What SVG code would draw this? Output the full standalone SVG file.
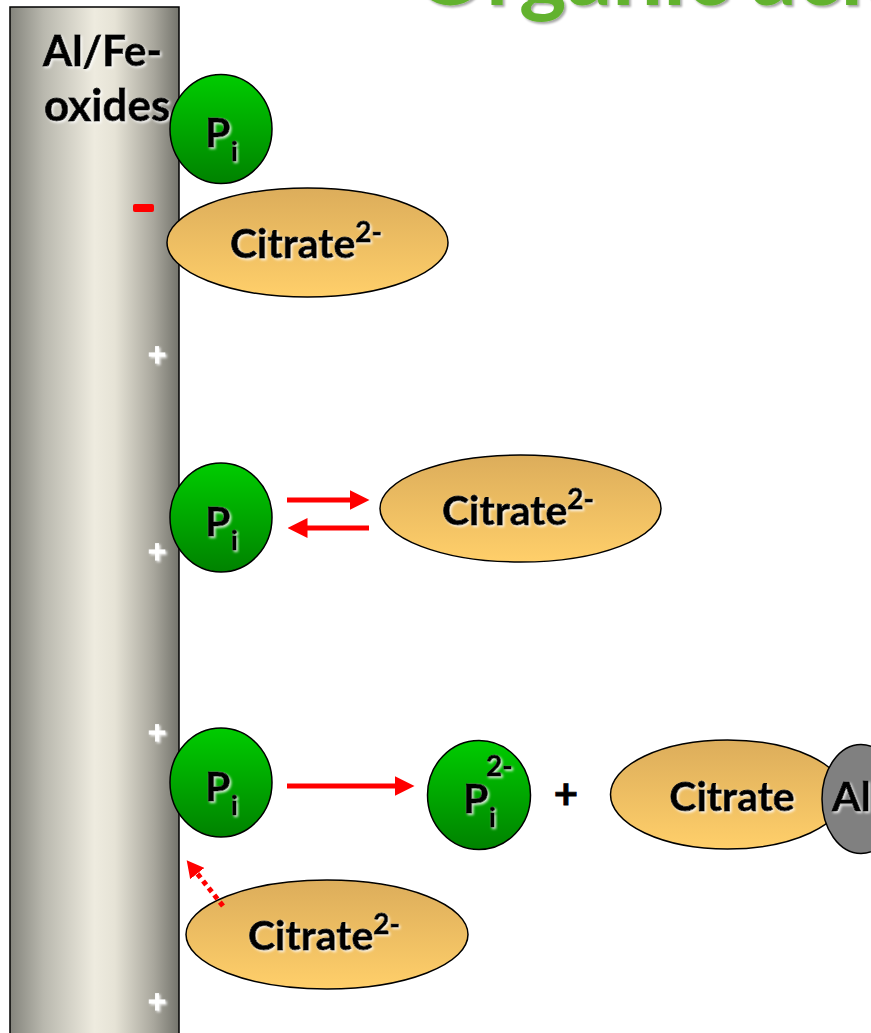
<svg xmlns="http://www.w3.org/2000/svg" width="871" height="1033" viewBox="0 0 871 1033">
<defs>
<linearGradient id="bar" x1="0" y1="0" x2="1" y2="0">
<stop offset="0" stop-color="#84847c"/>
<stop offset="0.2" stop-color="#b9b8ae"/>
<stop offset="0.5" stop-color="#eeebdf"/>
<stop offset="0.62" stop-color="#e6e3d6"/>
<stop offset="0.85" stop-color="#a9a79d"/>
<stop offset="1" stop-color="#74746c"/>
</linearGradient>
<linearGradient id="green" x1="0" y1="0" x2="0" y2="1">
<stop offset="0" stop-color="#00cc00"/>
<stop offset="1" stop-color="#008200"/>
</linearGradient>
<linearGradient id="cit" x1="0" y1="0" x2="0" y2="1">
<stop offset="0" stop-color="#dcad5b"/>
<stop offset="1" stop-color="#ffcf6a"/>
</linearGradient>
<filter id="glow" x="-10%" y="-10%" width="130%" height="130%">
<feDropShadow dx="1.5" dy="1.5" stdDeviation="0.8" flood-color="#ffffff" flood-opacity="0.85"/>
</filter>
<filter id="tshadow" x="-10%" y="-50%" width="130%" height="200%">
<feDropShadow dx="2" dy="2" stdDeviation="1.2" flood-color="#000000" flood-opacity="0.35"/>
</filter>
<marker id="ah" markerWidth="4" markerHeight="4" refX="0.5" refY="2" orient="auto" markerUnits="strokeWidth" viewBox="0 0 4 4">
<path d="M0,0 L4,2 L0,4 z" fill="#ff0000"/>
</marker>
<marker id="ahd" markerWidth="3.4" markerHeight="3.6" refX="0.4" refY="1.8" orient="auto" markerUnits="strokeWidth" viewBox="0 0 3.4 3.6">
<path d="M0,0 L3.4,1.8 L0,3.6 z" fill="#ff0000"/>
</marker>
</defs>
<style>
.t{font-family:Lato,"Liberation Sans",sans-serif;font-weight:bold;fill:#000;stroke:#000;stroke-width:0.8;}
.big{font-size:41px;}
.sup{font-size:28px;}
.sub{font-size:27px;}
.pi{fill:url(#green);stroke:#000;stroke-width:1.5;}
.cit{fill:url(#cit);stroke:#000;stroke-width:1.5;}
.plus{font-family:Lato,"Liberation Sans",sans-serif;font-weight:bold;font-size:32px;fill:#fff;stroke:#fff;stroke-width:0.8;}
.arr{stroke:#ff0000;stroke-width:5;fill:none;}
</style>

<g id="title">
<text x="414" y="5" font-family="Lato,'Liberation Sans',sans-serif" font-weight="bold" font-size="90" fill="#62b22f" filter="url(#tshadow)">Organic acids</text>
</g>

<g id="oxide-bar">
<rect x="10" y="7" width="169" height="1040" fill="url(#bar)" stroke="#000" stroke-width="1.5"/>
<text class="t" x="43" y="66" font-size="42" filter="url(#glow)">Al/Fe-</text>
<text class="t" x="44" y="121" font-size="44" filter="url(#glow)">oxides</text>
<rect x="133" y="204" width="21" height="8" rx="2" fill="#ff0000"/>
<text class="plus" x="157" y="366" text-anchor="middle" filter="url(#glow)">+</text>
<text class="plus" x="157" y="563" text-anchor="middle" filter="url(#glow)">+</text>
<text class="plus" x="157" y="744" text-anchor="middle" filter="url(#glow)">+</text>
<text class="plus" x="157" y="1013" text-anchor="middle" filter="url(#glow)">+</text>
</g>

<g id="pi1">
<ellipse class="pi" cx="221" cy="129" rx="51" ry="54.5"/>
<text class="t big" x="205" y="147" filter="url(#glow)">P</text>
<text class="t sub" x="231" y="161" filter="url(#glow)">i</text>
</g>

<g id="citrate1">
<ellipse class="cit" cx="307.5" cy="242.5" rx="140.5" ry="54.5"/>
<text class="t big" x="230" y="258" filter="url(#glow)">Citrate<tspan class="sup" dy="-16">2-</tspan></text>
</g>

<g id="pi2">
<ellipse class="pi" cx="221" cy="517.5" rx="51" ry="54.5"/>
<text class="t big" x="205" y="536" filter="url(#glow)">P</text>
<text class="t sub" x="231" y="550" filter="url(#glow)">i</text>
</g>

<g id="citrate2">
<ellipse class="cit" cx="520.5" cy="508.5" rx="140.5" ry="53.5"/>
<text class="t big" x="442" y="525" filter="url(#glow)">Citrate<tspan class="sup" dy="-16">2-</tspan></text>
</g>

<g id="pi3">
<ellipse class="pi" cx="221" cy="782.5" rx="51" ry="54.5"/>
<text class="t big" x="205" y="801" filter="url(#glow)">P</text>
<text class="t sub" x="231" y="815" filter="url(#glow)">i</text>
</g>

<g id="pi2minus">
<ellipse class="pi" cx="479" cy="795" rx="51.5" ry="54.5"/>
<text class="t big" x="463" y="813" filter="url(#glow)">P</text>
<text class="t sub" x="489" y="827" filter="url(#glow)">i</text>
<text class="t sup" x="486" y="776" filter="url(#glow)">2-</text>
</g>

<g id="plus-sign">
<text class="t" x="566" y="809" font-size="42" text-anchor="middle">+</text>
</g>

<g id="citrate3">
<ellipse class="cit" cx="727.5" cy="794.5" rx="117" ry="54.5"/>
</g>

<g id="al">
<ellipse cx="861" cy="799" rx="39" ry="54.5" fill="#808080" stroke="#000" stroke-width="1.5"/>
<text class="t big" x="832" y="811" filter="url(#glow)">Al</text>
</g>

<g id="citrate3-label">
<text class="t big" x="732" y="811" text-anchor="middle" filter="url(#glow)">Citrate</text>
</g>

<g id="citrate4">
<ellipse class="cit" cx="327" cy="934.5" rx="141" ry="54.5"/>
<text class="t big" x="248" y="950" filter="url(#glow)">Citrate<tspan class="sup" dy="-16">2-</tspan></text>
</g>

<g id="connectors">
<line class="arr" x1="287" y1="500" x2="352" y2="500" marker-end="url(#ah)"/>
<line class="arr" x1="369" y1="528" x2="305" y2="528" marker-end="url(#ah)"/>
<line class="arr" x1="287" y1="786" x2="397" y2="786" marker-end="url(#ah)"/>
<line class="arr" x1="223" y1="906" x2="196" y2="872" stroke-dasharray="5 4" marker-end="url(#ahd)"/>
</g>
</svg>
